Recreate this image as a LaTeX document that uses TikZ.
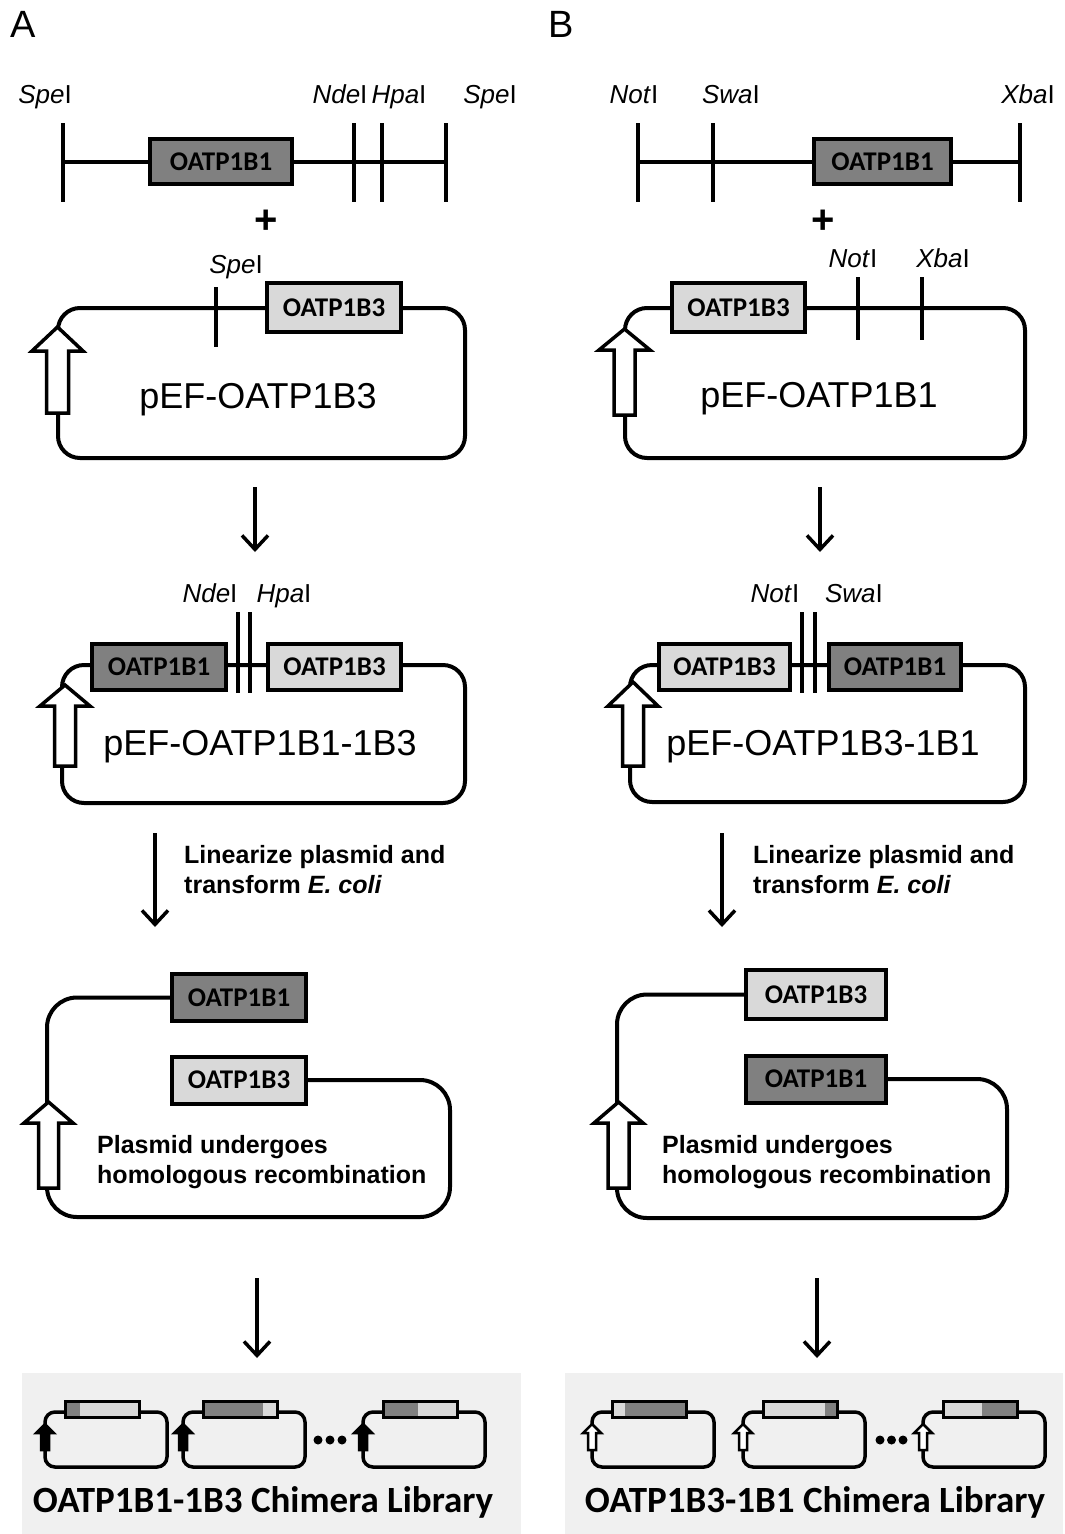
\documentclass[tikz,border=0pt]{standalone}
\usepackage{fontspec}
\setmainfont{Liberation Sans}
\newfontfamily\calib{Carlito}
\usetikzlibrary{arrows.meta}
\definecolor{gdark}{HTML}{808080}
\definecolor{glight}{HTML}{D9D9D9}
\definecolor{libbg}{HTML}{F0F0F0}
\newcommand\PromArrow[6]{\draw[promo] (#1,#2) -- (#1+#3,#4) -- (#1+#5,#4) -- (#1+#5,#6) -- (#1-#5,#6) -- (#1-#5,#4) -- (#1-#3,#4) -- cycle;}
\newcommand\LibPlas[5]{%
  \draw[libbb] (#1,1412) rectangle (#1+122,1467);
  \fill[#3] (#1+20,1401) rectangle (#1+#2,1417);
  \fill[#4] (#1+#2,1401) rectangle (#1+94,1417);
  \draw[libbox] (#1+20,1401) rectangle (#1+94,1417);
  \draw[#5] (#1,1424) -- (#1+9,1433) -- (#1+4,1433) -- (#1+4,1450) -- (#1-4,1450) -- (#1-4,1433) -- (#1-9,1433) -- cycle;}
\begin{document}
\begin{tikzpicture}[x=1pt,y=-1pt,
  gene/.style={draw, line width=4pt, inner sep=0pt, text=black,
    font=\calib\bfseries\fontsize{27}{30}\selectfont},
  dark/.style={gene, fill=gdark},
  light/.style={gene, fill=glight},
  dna/.style={line width=4pt},
  site/.style={line width=4pt},
  bb/.style={line width=4pt, rounded corners=22pt},
  recomb/.style={line width=4pt, rounded corners=30pt},
  promo/.style={line width=3.5pt, fill=white, draw=black, line join=miter},
  flow/.style={line width=3.5pt, -{Straight Barb[length=14pt,width=26pt]}},
  enz/.style={font=\fontsize{26}{30}\selectfont, anchor=base, inner sep=0pt},
  pname/.style={font=\fontsize{36}{40}\selectfont, anchor=base, inner sep=0pt},
  note/.style={font=\bfseries\fontsize{25}{30}\selectfont, anchor=base west, inner sep=0pt},
  libt/.style={font=\calib\bfseries\fontsize{37}{40}\selectfont, anchor=base, inner sep=0pt},
  panel/.style={font=\fontsize{38}{42}\selectfont, anchor=base west, inner sep=0pt},
  plus/.style={font=\bfseries\fontsize{40}{44}\selectfont, inner sep=0pt},
  libbb/.style={line width=3.5pt, rounded corners=10pt},
  libbox/.style={line width=3pt},
  libarrA/.style={line width=2.5pt, fill=black, draw=black},
  libarrB/.style={line width=2.5pt, fill=white, draw=black},
  dot/.style={fill=black}
]
\fill[white] (0,0) rectangle (1065,1534);
\useasboundingbox (0,0) rectangle (1065,1534);

\node[panel] (lblA) at (10,37) {A};
\node[panel] (lblB) at (548,37) {B};

% ================= Panel A =================
\draw[dna] (63,162) -- (446,162);
\foreach \x in {63,354,382,446} \draw[site] (\x,123) -- (\x,202);
\node[dark, minimum width=142pt, minimum height=45pt] (fA) at (221,161.5) {OATP1B1};
\node[enz] (eA1) at (45,103) {\textit{Spe}I};
\node[enz] (eA2) at (340,103) {\textit{Nde}I};
\node[enz] (eA3) at (399,103) {\textit{Hpa}I};
\node[enz] (eA4) at (490,103) {\textit{Spe}I};
\node[plus] (plusA) at (266,222) {+};

% plasmid pEF-OATP1B3
\draw[bb] (58,308) rectangle (465,458);
\draw[site] (216,287) -- (216,347);
\node[light, minimum width=134pt, minimum height=49pt] (pA1) at (334,307.5) {OATP1B3};
\node[enz] (eA5) at (236,273) {\textit{Spe}I};
\PromArrow{57.5}{327}{25.5}{351}{11}{413}
\node[pname] (nA1) at (258,408) {pEF-OATP1B3};

\coordinate (fa1s) at (255,487);
\coordinate (fa1e) at (255,552);
\draw[flow] (fa1s) -- (fa1e);

% plasmid pEF-OATP1B1-1B3
\draw[bb] (62,665) rectangle (465,803);
\draw[site] (238,612) -- (238,693);
\draw[site] (250,612) -- (250,693);
\node[dark, minimum width=134pt, minimum height=46pt] (pA2a) at (159,667) {OATP1B1};
\node[light, minimum width=133pt, minimum height=46pt] (pA2b) at (334.5,667) {OATP1B3};
\node[enz] (eA6) at (210,602) {\textit{Nde}I};
\node[enz] (eA7) at (284,602) {\textit{Hpa}I};
\PromArrow{65}{685}{25}{706}{10.5}{766}
\node[pname] (nA2) at (260,755) {pEF-OATP1B1-1B3};

\coordinate (fa2s) at (155,833);
\coordinate (fa2e) at (155,927);
\draw[flow] (fa2s) -- (fa2e);
\node[note] (tA1) at (184,863) {Linearize plasmid and};
\node[note] (tA2) at (184,893) {transform \textit{E. coli}};

% recombination
\node[dark, minimum width=134pt, minimum height=47pt] (rA1) at (239,997.5) {OATP1B1};
\node[light, minimum width=134pt, minimum height=47pt] (rA2) at (239,1080) {OATP1B3};
\draw[recomb] (rA1.west) -| (47,1217) -| (450,1080) -- (rA2.east);
\PromArrow{48.5}{1102}{24.5}{1123}{10}{1188}
\node[note] (tA3) at (97,1153) {Plasmid undergoes};
\node[note] (tA4) at (97,1183) {homologous recombination};

\coordinate (fa3s) at (257,1278);
\coordinate (fa3e) at (257,1358);
\draw[flow] (fa3s) -- (fa3e);

% library
\fill[libbg] (22,1373) rectangle (521,1534);
\LibPlas{45}{35}{gdark}{glight}{libarrA}
\LibPlas{183}{80}{gdark}{glight}{libarrA}
\LibPlas{363}{55}{gdark}{glight}{libarrA}
\foreach \x in {318,330,342} \fill[dot] (\x,1440) circle (4.5);
\node[libt] (libA) at (263,1512) {OATP1B1-1B3 Chimera Library};

% ================= Panel B =================
\draw[dna] (638,162) -- (1020,162);
\foreach \x in {638,713,1020} \draw[site] (\x,123) -- (\x,202);
\node[dark, minimum width=137pt, minimum height=45pt] (fB) at (882.5,161.5) {OATP1B1};
\node[enz] (eB1) at (634,103) {\textit{Not}I};
\node[enz] (eB2) at (731,103) {\textit{Swa}I};
\node[enz] (eB3) at (1028,103) {\textit{Xba}I};
\node[plus] (plusB) at (823,222) {+};

% plasmid pEF-OATP1B1
\draw[bb] (625,308) rectangle (1025,458);
\draw[site] (858,277) -- (858,340);
\draw[site] (922,277) -- (922,340);
\node[light, minimum width=133pt, minimum height=49pt] (pB1) at (738.5,307.5) {OATP1B3};
\node[enz] (eB4) at (853,267) {\textit{Not}I};
\node[enz] (eB5) at (943,267) {\textit{Xba}I};
\PromArrow{624.5}{329}{25.5}{350}{10.5}{415}
\node[pname] (nB1) at (819,407) {pEF-OATP1B1};

\coordinate (fb1s) at (820,487);
\coordinate (fb1e) at (820,552);
\draw[flow] (fb1s) -- (fb1e);

% plasmid pEF-OATP1B3-1B1
\draw[bb] (630,665) rectangle (1025,802);
\draw[site] (802,612) -- (802,693);
\draw[site] (815,612) -- (815,693);
\node[light, minimum width=131pt, minimum height=46pt] (pB2a) at (724.5,667) {OATP1B3};
\node[dark, minimum width=132pt, minimum height=46pt] (pB2b) at (895,667) {OATP1B1};
\node[enz] (eB6) at (775,602) {\textit{Not}I};
\node[enz] (eB7) at (854,602) {\textit{Swa}I};
\PromArrow{633}{682}{25}{706}{10.5}{766}
\node[pname] (nB2) at (823,755) {pEF-OATP1B3-1B1};

\coordinate (fb2s) at (722,833);
\coordinate (fb2e) at (722,927);
\draw[flow] (fb2s) -- (fb2e);
\node[note] (tB1) at (753,863) {Linearize plasmid and};
\node[note] (tB2) at (753,893) {transform \textit{E. coli}};

% recombination
\node[light, minimum width=140pt, minimum height=49pt] (rB1) at (816,994.5) {OATP1B3};
\node[dark, minimum width=140pt, minimum height=47pt] (rB2) at (816,1079) {OATP1B1};
\draw[recomb] (rB1.west) -| (617,1218) -| (1007,1079) -- (rB2.east);
\PromArrow{618.5}{1102}{24.5}{1123}{10.5}{1188}
\node[note] (tB3) at (662,1153) {Plasmid undergoes};
\node[note] (tB4) at (662,1183) {homologous recombination};

\coordinate (fb3s) at (817,1278);
\coordinate (fb3e) at (817,1358);
\draw[flow] (fb3s) -- (fb3e);

% library
\fill[libbg] (565,1373) rectangle (1063,1534);
\LibPlas{592}{33}{glight}{gdark}{libarrB}
\LibPlas{743}{82}{glight}{gdark}{libarrB}
\LibPlas{923}{59}{glight}{gdark}{libarrB}
\foreach \x in {880,891.5,903} \fill[dot] (\x,1440) circle (4.5);
\node[libt] (libB) at (815,1512) {OATP1B3-1B1 Chimera Library};
\end{tikzpicture}
\end{document}
